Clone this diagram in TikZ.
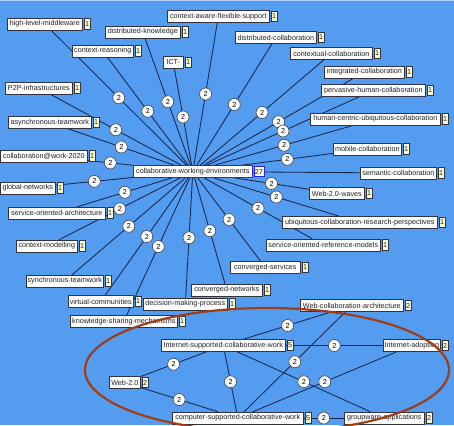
\documentclass[tikz,border=0pt]{standalone}
\usepackage{fontspec}
\setmainfont{Liberation Sans}
\newfontfamily\lblfamily{Liberation Sans}
\newcommand\lblfont{\lblfamily\fontsize{7.2pt}{8pt}\selectfont}

\definecolor{bgblue}{RGB}{84,156,240}
\definecolor{topstrip}{RGB}{176,206,246}
\definecolor{boxline}{RGB}{48,52,64}
\definecolor{cntfill}{RGB}{255,255,214}
\definecolor{hubblue}{RGB}{40,40,225}
\definecolor{linkcol}{RGB}{22,38,78}
\definecolor{circline}{RGB}{60,64,80}
\definecolor{ringbrown}{RGB}{158,62,22}

\pgfdeclarelayer{bgl}
\pgfdeclarelayer{edges}
\pgfdeclarelayer{marks}
\pgfdeclarelayer{top}
\pgfsetlayers{bgl,edges,marks,main,top}

\tikzset{
  lbl/.style={draw=boxline, fill=white, line width=0.6pt, inner xsep=1pt,
    inner ysep=0pt, minimum height=12pt, font=\lblfont, text=black!88,
    anchor=west},
  cnt/.style={draw=boxline, fill=cntfill, line width=0.6pt, inner xsep=1pt,
    inner ysep=0pt, minimum height=10.5pt, minimum width=6.5pt,
    font=\lblfont, text=black!88, anchor=west, xshift=1pt},
  link/.style={draw=linkcol, line width=0.85pt},
  wt/.style={circle, draw=circline, fill=white, line width=0.6pt,
    minimum size=12pt, inner sep=0pt, font=\lblfont},
  ring/.style={draw=ringbrown, line width=2.2pt},
}

% term: name, text, left x, centre y, box width, count
\newcommand\term[6]{%
  \node[lbl, minimum width=#5pt] (#1) at (#3,#4) {#2};
  \node[cnt] (#1c) at (#1.east) {#6};}
% weighted link with its label
\newcommand\lnk[2]{%
  \begin{pgfonlayer}{edges}\draw[link] (#1) -- (#2);\end{pgfonlayer}%
  \begin{pgfonlayer}{marks}\path (#1) -- (#2) node[pos=0.5, wt] {2};\end{pgfonlayer}}
% link without a label
\newcommand\barelnk[2]{%
  \begin{pgfonlayer}{edges}\draw[link] (#1) -- (#2);\end{pgfonlayer}}

\begin{document}
\begin{tikzpicture}[x=1pt, y=-1pt]
\useasboundingbox (0,0) rectangle (454,425);
\begin{pgfonlayer}{bgl}
  \fill[bgblue] (0,0) rectangle (454,425);
  \draw[topstrip, line width=1.5pt] (0,0.75) -- (454,0.75);
\end{pgfonlayer}

% hub
\node[lbl, draw=hubblue, minimum width=119pt] (cwe) at (133,171.5) {collaborative-working-environments};
\node[cnt, draw=hubblue] (cwec) at (cwe.east) {27};

% terms around the hub
\term{hlm}{high-level-middleware}{7}{24}{75}{1}
\term{dk}{distributed-knowledge}{105}{32}{75}{1}
\term{cr}{context-reasoning}{72}{51}{61}{1}
\term{ict}{ICT-}{163}{62.5}{20}{1}
\term{cafs}{context-aware-flexible-support}{167}{16.5}{102}{1}
\term{p2p}{P2P-infrastructures}{5}{88}{67}{1}
\term{at}{asynchronous-teamwork}{8}{122.5}{83}{1}
\term{dc}{distributed-collaboration}{235}{37.5}{81}{1}
\term{cc}{contextual-collaboration}{290}{53.5}{82}{1}
\term{ic}{integrated-collaboration}{324}{72}{80}{1}
\term{phc}{pervasive-human-collaboration}{321}{90.5}{104}{1}
\term{hcuc}{human-centric-ubiquitous-collaboration}{310}{119}{130}{1}
\term{cw}{collaboration@work-2020}{0}{156}{87}{1}
\term{gn}{global-networks}{0}{188}{55}{1}
\term{soa}{service-oriented-architecture}{8}{213}{97}{1}
\term{cm}{context-modelling}{16}{246}{61}{1}
\term{mc}{mobile-collaboration}{333}{149}{68}{1}
\term{sc}{semantic-collaboration}{360}{173}{76}{1}
\term{wtw}{Web-2.0-waves}{309}{193.5}{55}{1}
\term{ucrp}{ubiquitous-collaboration-research-perspectives}{282}{222.5}{155}{1}
\term{sorm}{service-oriented-reference-models}{266}{245}{114}{1}
\term{cs}{converged-services}{230}{267.5}{70}{1}
\term{st}{synchronous-teamwork}{26}{281}{77}{1}
\term{vc}{virtual-communities}{68}{301.5}{65}{1}
\term{dmp}{decision-making-process}{143}{304}{84}{1}
\term{cn}{converged-networks}{191}{290}{71}{1}
\term{ksm}{knowledge-sharing-mechanisms}{70}{321.5}{107}{1}

% collaborative-work cluster
\term{iscw}{Internet-supported-collaborative-work}{161}{345.5}{124}{5}
\term{wz}{Web-2.0}{109}{382.5}{31}{2}
\term{cscw}{computer-supported-collaborative-work}{172}{418}{131}{5}
\term{wca}{Web-collaboration-architecture}{300}{305.5}{103}{2}
\term{ia}{Internet-adoption}{383}{345.5}{57}{2}
\term{ga}{groupware-applications}{344}{418}{80}{2}

% hub links
\foreach \t in {hlm,dk,cr,ict,cafs,p2p,at,dc,cc,ic,phc,hcuc,cw,gn,soa,cm,
                mc,wtw,ucrp,sorm,cs,st,vc,dmp,cn,ksm}
  {\lnk{cwe}{\t}}
\barelnk{cwe}{sc}

% cluster links
\lnk{wz}{iscw}
\lnk{wz}{cscw}
\lnk{iscw}{wca}
\lnk{iscw}{ia}
\lnk{iscw}{cscw}
\lnk{iscw}{ga}
\lnk{cscw}{wca}
\lnk{cscw}{ia}
\lnk{cscw}{ga}

% highlight ring around the cluster
\begin{pgfonlayer}{top}
  \draw[ring] (267,370) ellipse [x radius=182pt, y radius=62pt];
\end{pgfonlayer}
\end{tikzpicture}
\end{document}
